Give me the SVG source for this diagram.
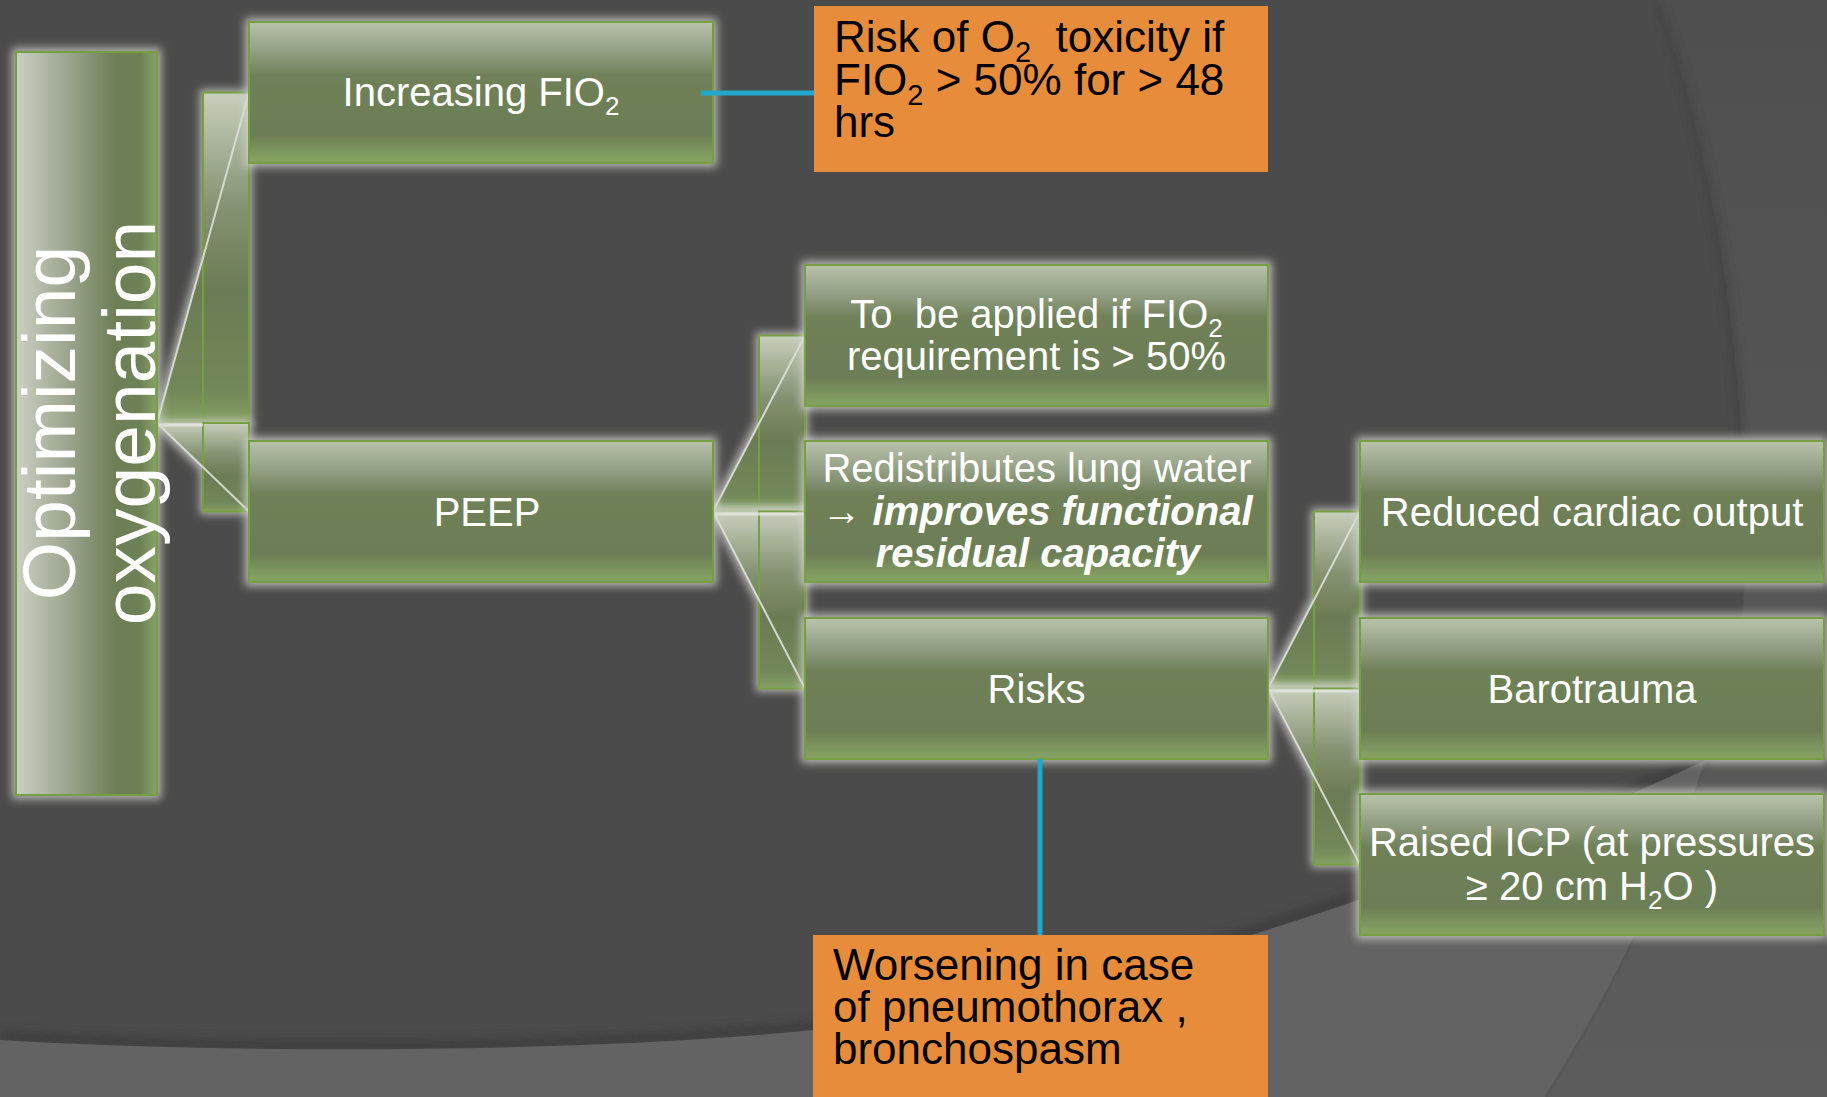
<svg xmlns="http://www.w3.org/2000/svg" width="1827" height="1097" viewBox="0 0 1827 1097">
<defs>
<style>
.nb{fill:url(#ng);stroke:#76a040;stroke-width:2;filter:url(#glow)}
.wt{fill:#ffffff;font-family:"Liberation Sans",Arial,sans-serif;font-size:40px;text-anchor:middle;white-space:pre}
.sb{font-size:26px}
.ob{fill:#e78c3b}
.bt{fill:#000000;font-family:"Liberation Sans",Arial,sans-serif;font-size:44px;white-space:pre}
.bs{font-size:29px}
.cf{fill:url(#cg);filter:url(#glow)}
.co{fill:none;stroke:#76a040;stroke-width:2}
.cd{stroke:#dde1d8;stroke-width:2;stroke-opacity:0.9}
.ch{stroke:#76a040;stroke-width:2;filter:url(#glow)}
.cy{stroke:#1fa7cc;stroke-width:5}
.bi{font-weight:bold;font-style:italic}
</style>
<linearGradient id="ng" x1="0" y1="0" x2="0" y2="1">
<stop offset="0" stop-color="#b9c3ab"/>
<stop offset="0.2" stop-color="#94a085"/>
<stop offset="0.38" stop-color="#6f8058"/>
<stop offset="0.8" stop-color="#6c7e55"/>
<stop offset="0.97" stop-color="#83a062"/>
<stop offset="1" stop-color="#83a062"/>
</linearGradient>
<linearGradient id="hg" x1="0" y1="0" x2="1" y2="0">
<stop offset="0" stop-color="#cad0c3"/>
<stop offset="0.35" stop-color="#9ea791"/>
<stop offset="0.7" stop-color="#6e7f57"/>
<stop offset="0.88" stop-color="#6d8056"/>
<stop offset="1" stop-color="#88a467"/>
</linearGradient>
<linearGradient id="cg" x1="0" y1="0" x2="0" y2="1">
<stop offset="0" stop-color="#c8cfbd"/>
<stop offset="0.35" stop-color="#849272"/>
<stop offset="0.6" stop-color="#6b7c53"/>
<stop offset="0.9" stop-color="#72875a"/>
<stop offset="1" stop-color="#84a062"/>
</linearGradient>
<linearGradient id="rg" x1="0" y1="0" x2="0" y2="1">
<stop offset="0" stop-color="#4f4f4f"/>
<stop offset="1" stop-color="#5c5c5c"/>
</linearGradient>
<filter id="glow" filterUnits="userSpaceOnUse" x="0" y="0" width="1827" height="1097">
<feMorphology in="SourceAlpha" operator="dilate" radius="3" result="d"/>
<feGaussianBlur in="d" stdDeviation="4" result="b"/>
<feFlood flood-color="#d2d4cf" flood-opacity="0.8" result="c"/>
<feComposite in="c" in2="b" operator="in" result="g"/>
<feMerge><feMergeNode in="g"/><feMergeNode in="SourceGraphic"/></feMerge>
</filter>
<filter id="sh" x="-5%" y="-5%" width="110%" height="110%"><feGaussianBlur stdDeviation="5"/></filter>
</defs>

<g id="background">
<rect x="0" y="0" width="1827" height="1097" fill="#4b4b4b"/>
<path d="M1657,0 C1705,130 1745,330 1745,560 C1745,640 1728,700 1706,760 C1680,850 1620,980 1546,1097 L1827,1097 L1827,0 Z" fill="url(#rg)"/>
<path d="M1657,0 C1705,130 1745,330 1745,560" fill="none" stroke="#3f3f3f" stroke-width="5" filter="url(#sh)"/>
<path d="M0,1036 C250,1051 600,1048 813,1026 C1100,996 1450,876 1706,756" fill="none" stroke="#3c3c3c" stroke-width="10" filter="url(#sh)"/>
<path d="M0,1040 C250,1055 600,1052 813,1030 C1100,1000 1450,880 1706,760 C1680,850 1620,980 1546,1097 L0,1097 Z" fill="#636363"/>
<path d="M1706,760 C1680,850 1620,980 1546,1097" fill="none" stroke="#575757" stroke-width="3"/>
</g>

<g id="connectors">
<!-- Optimizing -> Increasing FIO2 -->
<polygon class="cf" points="157,423 249,423 249,92.5 203,92.5 203,257.75"/>
<rect class="co" x="203" y="92.5" width="46" height="330.5"/>
<line class="co" x1="157" y1="423" x2="203" y2="423"/>
<line class="cd" x1="157" y1="423" x2="249" y2="92.5"/>
<!-- Optimizing -> PEEP -->
<polygon class="cf" points="157,423 249,423 249,511.5 203,511.5 203,467.25"/>
<rect class="co" x="203" y="423" width="46" height="88.5"/>
<line class="cd" x1="157" y1="423" x2="249" y2="511.5"/>
<line x1="159" y1="425" x2="203" y2="425" stroke="#e4e7e0" stroke-width="3" stroke-opacity="0.8"/>
<!-- PEEP -> To be applied -->
<polygon class="cf" points="713,511.5 805,511.5 805,335.5 759,335.5 759,423.5"/>
<rect class="co" x="759" y="335.5" width="46" height="176"/>
<line class="cd" x1="713" y1="511.5" x2="805" y2="335.5"/>
<!-- PEEP -> Redistributes -->
<line class="ch" x1="713" y1="511.5" x2="805" y2="511.5"/>
<!-- PEEP -> Risks -->
<polygon class="cf" points="713,511.5 805,511.5 805,688.5 759,688.5 759,600"/>
<rect class="co" x="759" y="511.5" width="46" height="177"/>
<line class="cd" x1="713" y1="511.5" x2="805" y2="688.5"/>
<line x1="715" y1="514" x2="805" y2="514" stroke="#e4e7e0" stroke-width="3" stroke-opacity="0.8"/>
<!-- Risks -> Reduced cardiac output -->
<polygon class="cf" points="1268,688.5 1360,688.5 1360,511.5 1314,511.5 1314,600"/>
<rect class="co" x="1314" y="511.5" width="46" height="177"/>
<line class="cd" x1="1268" y1="688.5" x2="1360" y2="511.5"/>
<!-- Risks -> Barotrauma -->
<line class="ch" x1="1268" y1="688.5" x2="1360" y2="688.5"/>
<!-- Risks -> Raised ICP -->
<polygon class="cf" points="1268,688.5 1360,688.5 1360,864.5 1314,864.5 1314,776.5"/>
<rect class="co" x="1314" y="688.5" width="46" height="176"/>
<line class="cd" x1="1268" y1="688.5" x2="1360" y2="864.5"/>
<line x1="1270" y1="691" x2="1360" y2="691" stroke="#e4e7e0" stroke-width="3" stroke-opacity="0.8"/>
</g>

<g id="node-optimizing">
<rect x="16" y="52" width="141" height="743" fill="url(#hg)" stroke="#76a040" stroke-width="2" filter="url(#glow)"/>
<g transform="translate(0,423) rotate(-90)">
<text x="0" y="75" class="wt" style="font-size:75px">Optimizing</text>
<text x="0" y="155" class="wt" style="font-size:75px">oxygenation</text>
</g>
</g>

<g id="node-increasing">
<rect class="nb" x="249" y="22" width="464" height="141"/>
<text x="481" y="106" class="wt">Increasing FIO<tspan class="sb" dy="9">2</tspan></text>
</g>

<g id="node-peep">
<rect class="nb" x="249" y="441" width="464" height="141"/>
<text x="487" y="526" class="wt">PEEP</text>
</g>

<g id="node-applied">
<rect class="nb" x="805" y="265" width="463" height="141"/>
<text x="1036.5" y="328" class="wt">To  be applied if FIO<tspan class="sb" dy="9">2</tspan></text>
<text x="1036.5" y="370" class="wt">requirement is &gt; 50%</text>
</g>

<g id="node-redistributes">
<rect class="nb" x="805" y="441" width="463" height="141"/>
<text x="1037" y="482" class="wt">Redistributes lung water</text>
<text x="1037" y="525" class="wt">→ <tspan class="bi">improves functional</tspan></text>
<text x="1038" y="567" class="wt bi">residual capacity</text>
</g>

<g id="node-risks">
<rect class="nb" x="805" y="618" width="463" height="141"/>
<text x="1036.5" y="703" class="wt">Risks</text>
</g>

<g id="node-reduced">
<rect class="nb" x="1360" y="441" width="464" height="141"/>
<text x="1592" y="526" class="wt">Reduced cardiac output</text>
</g>

<g id="node-barotrauma">
<rect class="nb" x="1360" y="618" width="464" height="141"/>
<text x="1592" y="703" class="wt">Barotrauma</text>
</g>

<g id="node-icp">
<rect class="nb" x="1360" y="794" width="464" height="141"/>
<text x="1592" y="856" class="wt">Raised ICP (at pressures</text>
<text x="1592" y="900" class="wt">≥ 20 cm H<tspan class="sb" dy="9">2</tspan><tspan dy="-9">O )</tspan></text>
</g>

<g id="callout-lines">
<line class="cy" x1="701" y1="93" x2="814" y2="93"/>
<line class="cy" x1="1040" y1="759" x2="1040" y2="935"/>
</g>

<g id="note-toxicity">
<rect class="ob" x="814" y="6" width="454" height="166"/>
<text x="834" y="52" class="bt">Risk of O<tspan class="bs" dy="10">2</tspan><tspan dy="-10">  toxicity if</tspan></text>
<text x="834" y="95" class="bt">FIO<tspan class="bs" dy="10">2</tspan><tspan dy="-10"> &gt; 50% for &gt; 48</tspan></text>
<text x="834" y="137" class="bt">hrs</text>
</g>

<g id="note-worsening">
<rect class="ob" x="813" y="935" width="455" height="162"/>
<text x="833" y="980" class="bt">Worsening in case</text>
<text x="833" y="1022" class="bt">of pneumothorax ,</text>
<text x="833" y="1064" class="bt">bronchospasm</text>
</g>
</svg>
